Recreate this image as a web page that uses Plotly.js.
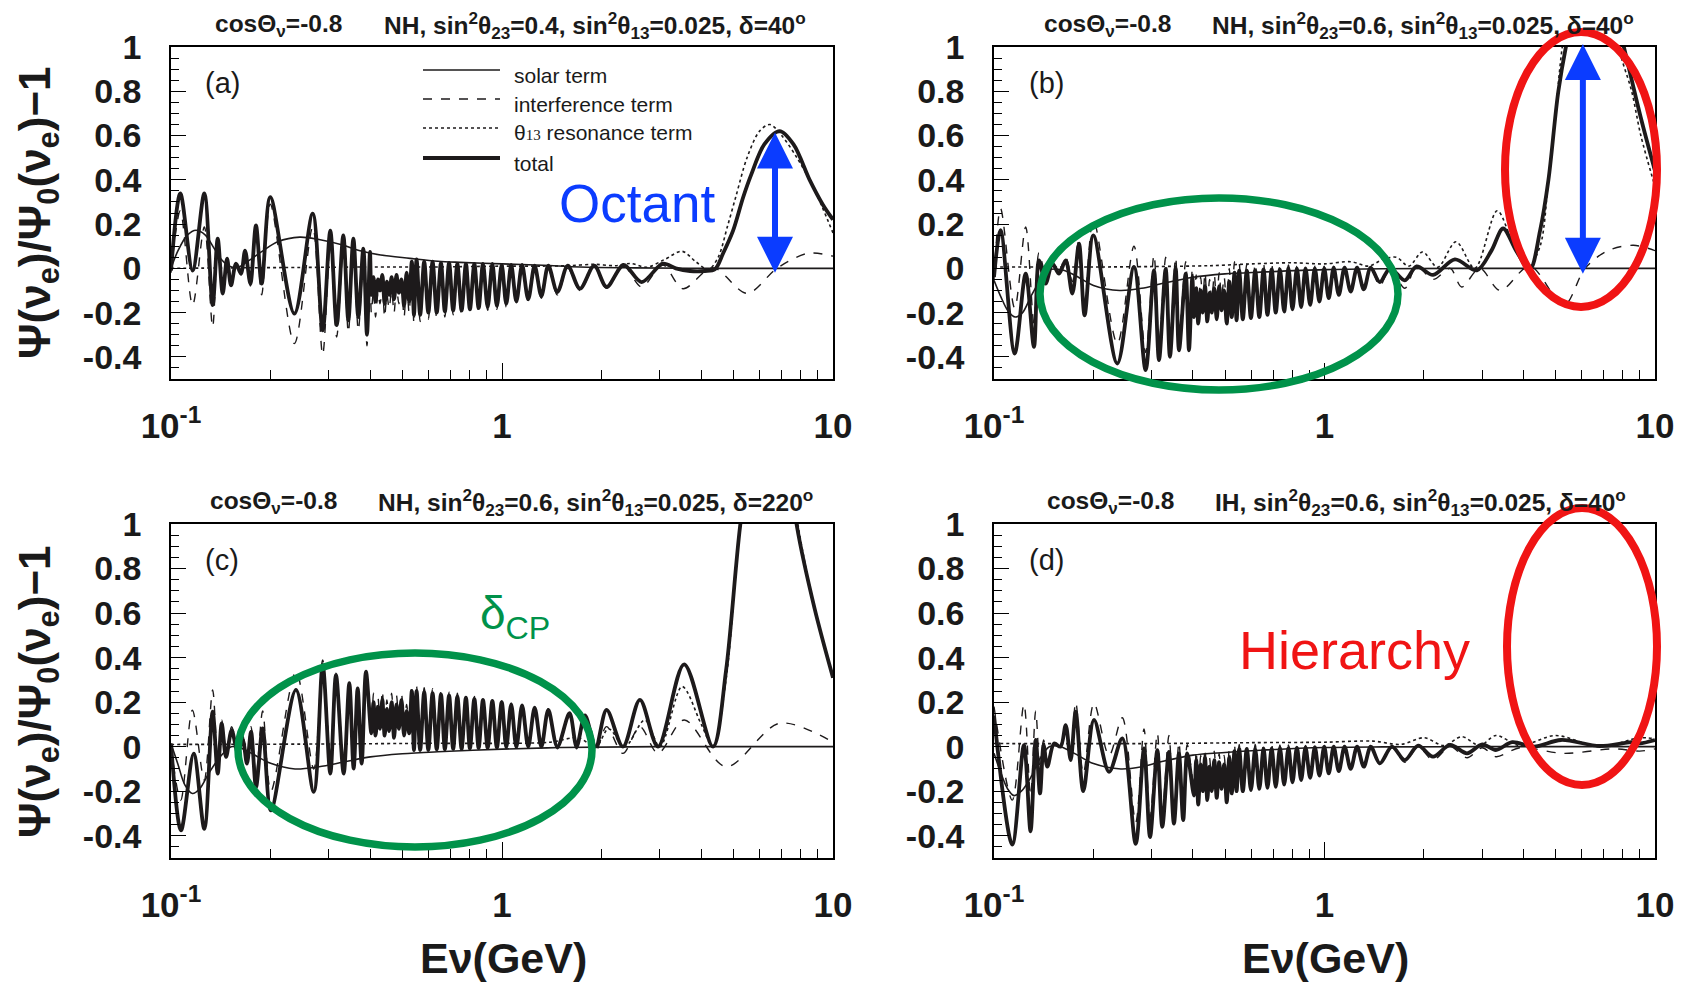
<!DOCTYPE html>
<html><head><meta charset="utf-8">
<script src="https://cdn.plot.ly/plotly-3.0.1.min.js"></script>
<style>html,body{margin:0;padding:0;background:#fff}#plot{width:1688px;height:982px}</style>
</head><body><div id="plot"></div>
<script>
// ---------- axis tick data ----------
const xTickVals = [0.1, 1, 10];
const xTickText = ['10<sup>-1</sup>', '1', '10'];
const xMinorVals = [0.2,0.3,0.4,0.5,0.6,0.7,0.8,0.9,2,3,4,5,6,7,8,9];
const yTickVals = [-0.4,-0.2,0,0.2,0.4,0.6,0.8,1];
const yTickText = ['-0.4','-0.2','0','0.2','0.4','0.6','0.8','1'];

// shared energies of the fast oscillation extrema (GeV), trough/peak alternating
const denseE = [0.403,0.409,0.415,0.422,0.428,0.435,0.442,0.449,0.456,0.464,0.472,0.480,0.488,0.497,0.506,0.515,0.524,0.534,
  0.542,0.552,0.566,0.582,0.599,0.617,0.635,0.654,0.672,0.692,0.712,0.733,0.755,0.778,0.80,0.825,0.85,0.876,0.905,0.935,
  0.965,0.998,1.03,1.066,1.105,1.15,1.20,1.255,1.315,1.38];

// ---------- panel (a) ----------
const aTotLowE = [0.1,0.1067,0.1162,0.1261,0.1336,0.1384,0.1433,0.1477,0.1518,0.1572,0.1627,0.1674,0.1737,0.1806,0.1879,0.1995,0.2359,0.268,0.2872,0.3029,0.3166,0.3316,0.3434,0.3556,0.3681,0.3811,0.3909,0.3992];
const aTotLowY = [-0.01,0.338,-0.01,0.338,-0.166,0.134,-0.114,0.044,-0.077,0.021,-0.024,0.08,-0.069,0.194,-0.069,0.322,-0.205,0.247,-0.28,0.17,-0.257,0.149,-0.235,0.134,-0.22,0.089,-0.30,0.074];
const aTotDenseY = [-0.12,-0.04,-0.15,-0.05,-0.10,-0.03,-0.16,-0.06,-0.12,-0.04,-0.14,-0.03,-0.11,-0.05,-0.17,-0.02,-0.15,0.03,
  -0.21,0.04,-0.21,0.03,-0.2,0.03,-0.2,0.025,-0.195,0.025,-0.19,0.02,-0.19,0.02,-0.185,0.02,-0.18,0.02,-0.175,0.02,-0.17,0.015,-0.16,0.015,-0.15,0.015,-0.14,0.012,-0.125,0.012];
const aTotHighE = [1.47,1.58,1.72,1.9,2.07,2.33,2.64,3.06,3.35,3.7,4.1,4.4,4.65,4.99,5.35,5.65,6.2,6.9,7.6,8.5,9.3,10];
const aTotHighY = [-0.107,0.012,-0.092,0.012,-0.084,0.015,-0.062,0.021,0.0,-0.012,-0.012,-0.004,0.066,0.17,0.32,0.42,0.56,0.62,0.56,0.40,0.29,0.22];

const aIntLowY = [-0.02,0.26,-0.167,0.187,-0.265,0.10,-0.09,0.04,-0.06,0.02,-0.03,0.07,-0.08,0.17,-0.12,0.29,-0.34,0.187,-0.39,0.11,-0.31,0.09,-0.29,0.08,-0.28,0.03,-0.35,0.02];
const aIntDenseY = [-0.2,-0.1,-0.22,-0.11,-0.16,-0.09,-0.22,-0.12,-0.18,-0.1,-0.2,-0.08,-0.16,-0.09,-0.22,-0.06,-0.2,-0.02,
  -0.25,-0.01,-0.24,-0.01,-0.23,0.0,-0.225,0.0,-0.22,0.0,-0.21,0.0,-0.21,0.0,-0.2,0.0,-0.195,0.0,-0.19,0.0,-0.185,0.0,-0.175,0.0,-0.16,0.0,-0.15,0.0,-0.135,0.0];
const aIntHighE = [1.47,1.58,1.72,1.9,2.07,2.33,2.64,3.06,3.52,4.33,5.5,6.77,8.4,10];
const aIntHighY = [-0.12,0.0,-0.1,0.005,-0.09,0.01,-0.084,0.015,-0.092,0.003,-0.113,0.0,0.068,0.055];

const aResE = [0.1,0.15,0.25,0.4,0.6,0.8,1.0,1.3,1.6,1.9,2.2,2.45,2.74,3.1,3.5,3.85,4.2,4.5,4.8,5.1,5.5,6.0,6.45,7.0,7.78,8.7,10];
const aResY = [0.0,0.002,0.004,0.006,0.006,0.008,0.01,0.01,0.012,0.018,0.012,0.022,0.005,0.04,0.077,0.03,-0.006,0.05,0.19,0.33,0.5,0.62,0.65,0.6,0.5,0.37,0.16];

const aSolE = [0.1,0.105,0.112,0.119,0.127,0.135,0.142,0.15,0.16,0.17,0.19,0.21,0.245,0.28,0.33,0.37,0.43,0.527,0.64,0.746,1.0,1.33,1.72,2.5,4,10];
const aSolY = [0.0,0.08,0.15,0.172,0.15,0.09,0.04,0.01,0.005,0.03,0.08,0.12,0.141,0.13,0.105,0.081,0.06,0.045,0.032,0.027,0.02,0.014,0.006,0.002,0.0,0.0];

// ---------- panel (b) ----------
const bTotLowE = [0.1,0.1047,0.1155,0.1247,0.1321,0.1368,0.1433,0.1502,0.1573,0.1648,0.1726,0.1808,0.188,0.1998,0.2361,0.2652,0.2876,0.3048,0.3157,0.3307,0.3407,0.3545,0.3629,0.3802,0.389,0.3982];
const bTotLowY = [-0.039,0.172,-0.385,-0.024,-0.355,0.036,-0.069,0.021,-0.024,0.036,-0.114,0.111,-0.212,0.149,-0.43,0.006,-0.46,-0.009,-0.415,-0.002,-0.40,0.0,-0.37,-0.024,-0.37,-0.04];
const bTotDenseY = [-0.22,-0.09,-0.25,-0.1,-0.2,-0.08,-0.24,-0.11,-0.2,-0.09,-0.23,-0.08,-0.19,-0.1,-0.25,-0.06,-0.22,-0.02,
  -0.235,-0.01,-0.23,-0.01,-0.225,-0.01,-0.22,-0.005,-0.21,-0.005,-0.2,-0.005,-0.195,0.0,-0.185,0.0,-0.175,0.0,-0.165,0.0,-0.15,0.0,-0.135,0.003,-0.12,0.003,-0.105,0.003,-0.095,0.003];
const bTotHighE = [1.47,1.58,1.75,1.9,2.13,2.48,2.89,3.2,3.47,3.8,4.18,4.49,4.76,5.1,5.46,6.0,6.6,7.3,8.05,9.06,10];
const bTotHighY = [-0.062,0.0,-0.054,0.009,-0.03,0.04,-0.009,0.08,0.18,0.08,-0.006,0.17,0.4,0.8,1.05,1.3,1.38,1.25,1.0,0.68,0.44];

const bIntLowY = [-0.05,0.27,-0.18,0.187,-0.25,0.07,-0.02,0.03,-0.01,0.05,-0.06,0.13,-0.15,0.22,-0.34,0.10,-0.38,0.06,-0.34,0.05,-0.33,0.05,-0.31,0.03,-0.32,0.0];
const bIntDenseY = [-0.16,-0.03,-0.19,-0.04,-0.14,-0.02,-0.18,-0.05,-0.14,-0.03,-0.17,-0.02,-0.13,-0.04,-0.19,0.0,-0.16,0.03,
  -0.2,0.02,-0.2,0.02,-0.195,0.02,-0.19,0.02,-0.18,0.02,-0.175,0.015,-0.17,0.015,-0.16,0.01,-0.155,0.01,-0.145,0.01,-0.135,0.01,-0.12,0.01,-0.11,0.008,-0.1,0.008,-0.09,0.005];
const bIntHighE = [1.47,1.58,1.75,1.9,2.13,2.4,2.6,2.95,3.4,4.18,5.3,6.14,7.2,8.6,10];
const bIntHighY = [-0.08,0.0,-0.09,0.01,-0.05,0.0,-0.084,0.0,-0.1,0.01,-0.167,0.0,0.08,0.104,0.08];

const bResE = [0.1,0.2,0.3,0.45,0.6,0.8,1.0,1.2,1.36,1.5,1.65,1.8,1.98,2.2,2.5,2.85,3.33,3.7,4.1,4.49,4.76,4.94,5.24,5.8,6.5,7.2,7.76,8.5,9.06,10];
const bResY = [0.006,0.006,0.008,0.012,0.02,0.025,0.02,0.03,0.01,0.04,0.05,0.01,0.074,0.005,0.12,0.0,0.26,0.12,0.0,0.1,0.4,0.61,1.0,1.4,1.5,1.35,1.0,0.8,0.6,0.37];

const bSolE = [0.1,0.105,0.11,0.116,0.122,0.129,0.137,0.145,0.159,0.175,0.2,0.24,0.28,0.32,0.4,0.5,0.64,1.0,1.5,3,10];
const bSolY = [-0.054,-0.13,-0.19,-0.22,-0.2,-0.13,-0.06,-0.01,-0.005,-0.03,-0.077,-0.1,-0.09,-0.07,-0.04,-0.025,-0.017,-0.006,-0.002,0.0,0.0];

// ---------- panel (c) ----------
const cTotLowE = [0.1,0.1072,0.1171,0.1261,0.1336,0.1384,0.1423,0.1467,0.1525,0.159,0.1646,0.1696,0.1745,0.1807,0.1892,0.2004,0.2385,0.27,0.2872,0.3029,0.3151,0.3324,0.3457,0.3563,0.3664,0.3767,0.3882];
const cTotLowY = [0.014,-0.376,-0.031,-0.369,0.157,-0.121,0.104,-0.046,0.074,-0.023,0.03,-0.076,0.067,-0.181,0.082,-0.286,0.255,-0.203,0.367,-0.121,0.322,-0.121,0.285,-0.098,0.262,-0.076,0.337];
const cTotDenseY = [0.06,0.2,0.05,0.18,0.08,0.21,0.05,0.17,0.07,0.2,0.04,0.19,0.08,0.21,0.05,0.16,0.06,0.25,
  -0.015,0.25,-0.015,0.245,-0.015,0.24,-0.012,0.235,-0.012,0.23,-0.01,0.225,-0.01,0.22,-0.008,0.215,-0.006,0.21,-0.005,0.205,-0.004,0.2,-0.003,0.19,-0.002,0.185,0.0,0.175,0.0,0.165];
const cTotHighE = [1.47,1.6,1.68,1.78,1.92,2.07,2.32,2.61,2.96,3.55,4.34,4.75,5.24,5.8,6.4,7.1,7.78,8.8,10];
const cTotHighY = [0.0,0.15,0.0,0.14,0.0,0.165,0.0,0.21,0.0,0.37,0.0,0.34,0.99,1.45,1.6,1.45,0.99,0.62,0.31];

const cIntLowE = [0.1,0.107,0.116,0.126,0.1336,0.1384,0.1423,0.147,0.1525,0.159,0.1646,0.1696,0.1745,0.1807,0.1892,0.2004,0.2385,0.27,0.2872,0.3029,0.3151,0.3324,0.3457,0.3563,0.3664,0.3767,0.3882];
const cIntLowY = [0.0,-0.24,0.164,-0.15,0.255,-0.05,0.12,-0.02,0.09,0.0,0.05,-0.05,0.09,-0.13,0.16,-0.2,0.337,-0.1,0.39,-0.03,0.33,-0.05,0.29,-0.03,0.27,-0.02,0.34];
const cIntDenseY = [0.1,0.24,0.09,0.22,0.12,0.25,0.09,0.21,0.11,0.24,0.08,0.23,0.12,0.24,0.08,0.19,0.09,0.27,
  0.015,0.27,0.015,0.265,0.012,0.26,0.01,0.25,0.01,0.245,0.008,0.24,0.008,0.23,0.006,0.225,0.005,0.22,0.004,0.21,0.003,0.205,0.002,0.195,0.0,0.19,0.0,0.18,0.0,0.17];
const cIntHighE = [1.47,1.6,1.68,1.78,1.92,2.07,2.32,2.61,2.96,3.55,4.75,6.9,10];
const cIntHighY = [-0.01,0.14,-0.01,0.12,-0.02,0.09,-0.03,0.09,-0.03,0.12,-0.09,0.105,0.02];

const cResE = [0.1,0.3,0.6,1.0,1.4,1.7,1.92,2.1,2.35,2.7,3.0,3.5,4.0,4.34,4.75,5.24,5.8,6.4,7.1,7.85,8.8,10];
const cResY = [0.01,0.012,0.015,0.015,0.02,0.04,0.0,0.08,0.0,0.12,0.0,0.27,0.1,0.0,0.3,0.99,1.45,1.6,1.45,0.99,0.62,0.31];

const cSolE = [0.1,0.105,0.11,0.116,0.122,0.13,0.14,0.152,0.165,0.18,0.2,0.237,0.28,0.33,0.4,0.5,0.64,1.0,1.5,3,10];
const cSolY = [0.014,-0.08,-0.17,-0.21,-0.19,-0.12,-0.05,0.0,-0.01,-0.04,-0.075,-0.1,-0.09,-0.07,-0.046,-0.032,-0.023,-0.011,-0.004,0.0,0.0];

// ---------- panel (d) ----------
const dTotLowE = [0.1,0.1136,0.1232,0.129,0.1337,0.1378,0.1413,0.145,0.152,0.159,0.1648,0.1706,0.1767,0.1863,0.2007,0.2229,0.2445,0.2684,0.2844,0.2966,0.312,0.323,0.3383,0.3503,0.3627,0.3737,0.3843];
const dTotLowY = [0.14,-0.44,0.007,-0.38,0.03,-0.21,0.007,-0.09,0.014,0.0,0.097,-0.06,0.157,-0.2,0.12,-0.113,0.037,-0.436,-0.008,-0.406,-0.016,-0.36,-0.023,-0.346,-0.03,-0.33,-0.03];
const dTotDenseY = [-0.22,-0.06,-0.26,-0.08,-0.2,-0.05,-0.24,-0.09,-0.2,-0.06,-0.23,-0.07,-0.19,-0.08,-0.25,-0.05,-0.21,-0.02,
  -0.2,-0.01,-0.2,-0.01,-0.195,-0.01,-0.19,-0.008,-0.185,-0.008,-0.18,-0.006,-0.17,-0.005,-0.16,-0.004,-0.15,-0.003,-0.14,-0.002,-0.13,0.0,-0.12,0.0,-0.11,0.0,-0.1,0.0,-0.09,0.0];
const dTotHighE = [1.47,1.6,1.75,1.92,2.13,2.4,2.7,3.0,3.3,3.7,4.3,5.2,6.8,8.5,9.0,10];
const dTotHighY = [-0.075,0.0,-0.06,0.005,-0.045,0.008,-0.03,0.01,-0.015,0.02,0.0,0.03,0.003,0.02,0.015,0.03];

const dIntLowY = [0.18,-0.24,0.19,-0.22,0.16,-0.1,0.03,-0.06,0.02,0.0,0.1,-0.03,0.2,-0.12,0.195,-0.04,0.13,-0.34,0.08,-0.32,0.06,-0.29,0.05,-0.3,0.02,-0.29,0.01];
const dIntDenseY = [-0.18,-0.02,-0.22,-0.04,-0.16,-0.01,-0.2,-0.05,-0.16,-0.02,-0.19,-0.03,-0.15,-0.04,-0.21,-0.01,-0.17,0.01,
  -0.17,0.01,-0.17,0.01,-0.17,0.01,-0.165,0.01,-0.16,0.01,-0.16,0.008,-0.15,0.008,-0.145,0.006,-0.135,0.005,-0.13,0.004,-0.12,0.003,-0.11,0.002,-0.1,0.0,-0.095,0.0,-0.085,0.0];
const dIntHighE = [1.47,1.6,1.75,1.92,2.13,2.4,2.7,3.0,3.3,3.9,5.3,7.5,9,10];
const dIntHighY = [-0.08,-0.005,-0.07,0.0,-0.06,0.0,-0.05,-0.005,-0.045,-0.005,-0.03,-0.01,-0.02,-0.01];

const dResE = [0.1,0.3,0.6,1.0,1.4,1.7,2.0,2.3,2.6,2.95,3.3,3.9,5.0,6.8,9.0,10];
const dResY = [0.014,0.014,0.018,0.02,0.025,0.01,0.04,0.005,0.045,0.005,0.05,0.005,0.05,0.0,0.04,0.035];

const dSolE = [0.1,0.105,0.11,0.115,0.121,0.129,0.137,0.147,0.159,0.175,0.2,0.242,0.28,0.32,0.4,0.5,0.64,1.0,1.5,3,10];
const dSolY = [-0.03,-0.12,-0.19,-0.22,-0.2,-0.14,-0.06,0.0,0.0,-0.03,-0.076,-0.1,-0.09,-0.068,-0.038,-0.026,-0.016,-0.004,-0.001,0.0,0.0];

// ---------- text ----------
const headerLeft = 'cosΘ<sub>ν</sub>=-0.8';
const headerRight = [
  'NH, sin<sup>2</sup>θ<sub>23</sub>=0.4, sin<sup>2</sup>θ<sub>13</sub>=0.025, δ=40<sup>o</sup>',
  'NH, sin<sup>2</sup>θ<sub>23</sub>=0.6, sin<sup>2</sup>θ<sub>13</sub>=0.025, δ=40<sup>o</sup>',
  'NH, sin<sup>2</sup>θ<sub>23</sub>=0.6, sin<sup>2</sup>θ<sub>13</sub>=0.025, δ=220<sup>o</sup>',
  'IH, sin<sup>2</sup>θ<sub>23</sub>=0.6, sin<sup>2</sup>θ<sub>13</sub>=0.025, δ=40<sup>o</sup>'];
const panelTags = ['(a)','(b)','(c)','(d)'];
const legendNames = ['solar term','interference term',"θ<span style='font-size:15px;font-family:Liberation Serif,serif'>13</span> resonance term",'total'];

// ---------- build ----------
const F = 'Liberation Sans, Arial, Helvetica, sans-serif';
const INK = '#1d1a1b';
const styles = {
  sol: {color: INK, width: 1.6, dash: 'solid'},
  int: {color: INK, width: 1.4, dash: 'dash'},
  res: {color: INK, width: 1.6, dash: 'dot'},
  tot: {color: INK, width: 3.8, dash: 'solid'}
};
function tr(E, Y, n, key) {
  return {x: E, y: Y, type: 'scatter', mode: 'lines', xaxis: 'x' + (n > 1 ? n : ''), yaxis: 'y' + (n > 1 ? n : ''),
    line: Object.assign({shape: 'spline', smoothing: 0.9}, styles[key]), showlegend: false, hoverinfo: 'skip'};
}
const panels = [
  {sol: [aSolE, aSolY], int: [aTotLowE.concat(denseE, aIntHighE), aIntLowY.concat(aIntDenseY, aIntHighY)], res: [aResE, aResY], tot: [aTotLowE.concat(denseE, aTotHighE), aTotLowY.concat(aTotDenseY, aTotHighY)]},
  {sol: [bSolE, bSolY], int: [bTotLowE.concat(denseE, bIntHighE), bIntLowY.concat(bIntDenseY, bIntHighY)], res: [bResE, bResY], tot: [bTotLowE.concat(denseE, bTotHighE), bTotLowY.concat(bTotDenseY, bTotHighY)]},
  {sol: [cSolE, cSolY], int: [cIntLowE.concat(denseE, cIntHighE), cIntLowY.concat(cIntDenseY, cIntHighY)], res: [cResE, cResY], tot: [cTotLowE.concat(denseE, cTotHighE), cTotLowY.concat(cTotDenseY, cTotHighY)]},
  {sol: [dSolE, dSolY], int: [dTotLowE.concat(denseE, dIntHighE), dIntLowY.concat(dIntDenseY, dIntHighY)], res: [dResE, dResY], tot: [dTotLowE.concat(denseE, dTotHighE), dTotLowY.concat(dTotDenseY, dTotHighY)]}
];
const traces = [];
panels.forEach((p, i) => { ['sol','int','res','tot'].forEach(k => traces.push(tr(p[k][0], p[k][1], i + 1, k))); });

const W = 1688, H = 982;
const px = v => v / W, py = v => 1 - v / H;
const xDom = [[px(171), px(833)], [px(994), px(1655)]];
const yDom = [[py(379), py(47)], [py(858), py(524)]];

function xax(d, anchor) {
  return {type: 'log', range: [-1, 1], domain: d, anchor: anchor, showline: true, mirror: true, linecolor: '#000', linewidth: 1.5,
    showgrid: false, zeroline: false, tickmode: 'array', tickvals: xTickVals, ticktext: xTickText,
    ticks: 'inside', ticklen: 16, tickwidth: 1.3, tickcolor: '#000', ticklabelstandoff: 15,
    tickfont: {family: F, size: 35, color: '#1a1a1a', weight: 'bold'},
    minor: {tickmode: 'array', tickvals: xMinorVals, ticks: 'inside', ticklen: 9, tickwidth: 1.2, tickcolor: '#000', showgrid: false}};
}
function yax(d, anchor) {
  return {range: [-0.5, 1.0], domain: d, anchor: anchor, showline: true, mirror: true, linecolor: '#000', linewidth: 1.5,
    showgrid: false, zeroline: false, tickmode: 'array', tickvals: yTickVals, ticktext: yTickText,
    ticks: 'inside', ticklen: 15, tickwidth: 1.3, tickcolor: '#000', ticklabelstandoff: 21,
    tickfont: {family: F, size: 34, color: '#1a1a1a', weight: 'bold'},
    minor: {dtick: 0.05, tick0: 0, ticks: 'inside', ticklen: 8, tickwidth: 1.2, tickcolor: '#000', showgrid: false}};
}

const layout = {
  width: W, height: H, margin: {l: 0, r: 0, t: 0, b: 0}, paper_bgcolor: '#fff', plot_bgcolor: '#fff', showlegend: false,
  xaxis: xax(xDom[0], 'y'), yaxis: yax(yDom[0], 'x'),
  xaxis2: xax(xDom[1], 'y2'), yaxis2: yax(yDom[0], 'x2'),
  xaxis3: xax(xDom[0], 'y3'), yaxis3: yax(yDom[1], 'x3'),
  xaxis4: xax(xDom[1], 'y4'), yaxis4: yax(yDom[1], 'x4'),
  annotations: [], shapes: []
};
const A = layout.annotations, S = layout.shapes;
const hdr = {family: F, size: 24.5, color: '#1a1a1a', weight: 'bold'};
const leftX = [[213, 382], [1042, 1210], [208, 376], [1045, 1213]];
const topY = [47, 47, 524, 524];
for (let i = 0; i < 4; i++) {
  const hy = topY[i] - 22;
  A.push({xref: 'paper', yref: 'paper', x: px(leftX[i][0]), y: py(hy), xanchor: 'left', yanchor: 'middle', text: headerLeft, showarrow: false, font: hdr});
  A.push({xref: 'paper', yref: 'paper', x: px(leftX[i][1]), y: py(hy), xanchor: 'left', yanchor: 'middle', text: headerRight[i], showarrow: false, font: hdr});
  const tx = (i % 2 === 0) ? 203 : 1027;
  A.push({xref: 'paper', yref: 'paper', x: px(tx), y: py(topY[i] + 36), xanchor: 'left', yanchor: 'middle', text: panelTags[i], showarrow: false,
    font: {family: F, size: 29, color: '#1a1a1a'}});
}
// y-axis titles
const ytitle = 'Ψ(ν<sub>e</sub>)/Ψ<sub>0</sub>(ν<sub>e</sub>)−1';
[213, 692].forEach(cy => A.push({xref: 'paper', yref: 'paper', x: px(38), y: py(cy), xanchor: 'center', yanchor: 'middle', textangle: -90,
  text: ytitle, showarrow: false, font: {family: F, size: 44, color: '#1a1a1a', weight: 'bold'}}));
// x-axis titles
[503, 1325].forEach(cx => A.push({xref: 'paper', yref: 'paper', x: px(cx), y: py(958), xanchor: 'center', yanchor: 'middle',
  text: 'Eν(GeV)', showarrow: false, font: {family: F, size: 43, color: '#1a1a1a', weight: 'bold'}}));

// legend in panel (a)
const legRows = [70, 99, 128, 158];
const legDash = ['solid', 'dash', 'dot', 'solid'];
const legW = [1.6, 1.4, 1.6, 4];
legRows.forEach((ry, k) => {
  S.push({type: 'line', xref: 'paper', yref: 'paper', x0: px(423), x1: px(500), y0: py(ry), y1: py(ry), line: {color: INK, width: legW[k], dash: legDash[k]}});
  A.push({xref: 'paper', yref: 'paper', x: px(512), y: py(ry + 5), xanchor: 'left', yanchor: 'middle', text: legendNames[k], showarrow: false,
    font: {family: F, size: 21, color: '#1a1a1a'}});
});

// annotations of the physics message
const BLUE = '#0b3cff', RED = '#f01414', GREEN = '#00924a';
A.push({xref: 'paper', yref: 'paper', x: px(637), y: py(204), xanchor: 'center', yanchor: 'middle', text: 'Octant', showarrow: false,
  font: {family: F, size: 53, color: BLUE}});
A.push({xref: 'paper', yref: 'paper', x: px(515), y: py(616), xanchor: 'center', yanchor: 'middle', text: 'δ<sub>CP</sub>', showarrow: false,
  font: {family: F, size: 46, color: GREEN}});
A.push({xref: 'paper', yref: 'paper', x: px(1354), y: py(650), xanchor: 'center', yanchor: 'middle', text: 'Hierarchy', showarrow: false,
  font: {family: F, size: 54, color: RED}});
// double arrows
const arrowA = {E: 6.68, lo: -0.02, hi: 0.62};
const arrowB = {E: 6.05, lo: -0.025, hi: 1.02};
A.push({xref: 'x', yref: 'y', axref: 'x', ayref: 'y', x: Math.log10(arrowA.E), y: arrowA.lo, ax: Math.log10(arrowA.E), ay: arrowA.hi,
  text: '', showarrow: true, arrowhead: 2, startarrowhead: 2, arrowside: 'end+start', arrowwidth: 6, arrowsize: 1.2, startarrowsize: 1.2, arrowcolor: BLUE, standoff: 0, startstandoff: 0});
A.push({xref: 'x2', yref: 'y2', axref: 'x2', ayref: 'y2', x: Math.log10(arrowB.E), y: arrowB.lo, ax: Math.log10(arrowB.E), ay: arrowB.hi,
  text: '', showarrow: true, arrowhead: 2, startarrowhead: 2, arrowside: 'end+start', arrowwidth: 6, arrowsize: 1.2, startarrowsize: 1.2, arrowcolor: BLUE, standoff: 0, startstandoff: 0});
// ellipses
function ell(x0, x1, y0, y1, c, w) {
  S.push({type: 'circle', xref: 'paper', yref: 'paper', x0: px(x0), x1: px(x1), y0: py(y1), y1: py(y0), line: {color: c, width: w}, layer: 'above'});
}
ell(1505, 1657, 32, 307, RED, 8);
ell(1040, 1398, 198, 390, GREEN, 7.5);
ell(238, 592, 653, 847, GREEN, 7.5);
ell(1507, 1657, 508, 785, RED, 8);

Plotly.newPlot('plot', traces, layout, {displayModeBar: false});
</script>
</body></html>
